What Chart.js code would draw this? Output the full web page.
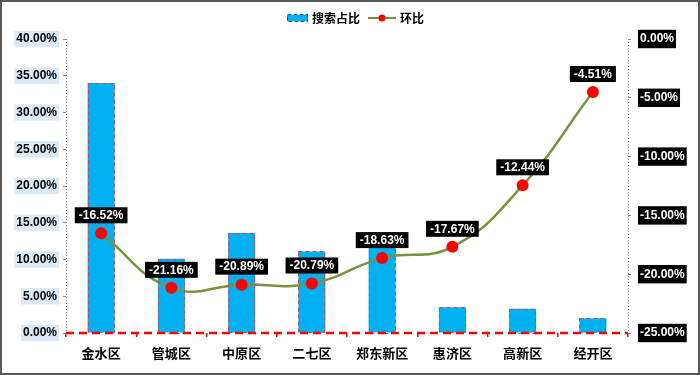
<!DOCTYPE html>
<html>
<head>
<meta charset="utf-8">
<script src="https://cdn.jsdelivr.net/npm/chart.js@4/dist/chart.umd.min.js"></script>
<style>
html,body{margin:0;padding:0;background:#fff;}
#wrap{position:relative;width:700px;height:375px;}
</style>
</head>
<body>
<div id="wrap"><canvas id="c" width="700" height="375"></canvas></div>
<script>
const categories = ['金水区','管城区','中原区','二七区','郑东新区','惠济区','高新区','经开区'];
const searchShare = [34.0, 10.1, 13.6, 11.1, 12.7, 3.5, 3.3, 2.0];
const momChange = [-16.52, -21.16, -20.89, -20.79, -18.63, -17.67, -12.44, -4.51];
const seriesNames = ['搜索占比','环比'];
const leftTicks = [0,5,10,15,20,25,30,35,40];
const rightTicks = [-25,-20,-15,-10,-5,0];

const CN = '"Noto Sans CJK SC", sans-serif';
const NUM = '"Liberation Sans", Arial, sans-serif';

const decor = {
  id: 'decor',
  beforeDatasetsDraw(chart) {
    const ctx = chart.ctx;
    const a = chart.chartArea;
    ctx.save();
    ctx.strokeStyle = '#808080';
    ctx.lineWidth = 1;
    ctx.setLineDash([1,2]);
    ctx.beginPath();
    ctx.moveTo(Math.round(a.left) + 0.5, a.top);
    ctx.lineTo(Math.round(a.left) + 0.5, a.bottom);
    ctx.moveTo(Math.round(a.right) + 0.5, a.top);
    ctx.lineTo(Math.round(a.right) + 0.5, a.bottom);
    ctx.stroke();
    ctx.restore();
  },
  afterDatasetsDraw(chart) {
    const ctx = chart.ctx;
    const a = chart.chartArea;
    // dashed bar borders
    const barMeta = chart.getDatasetMeta(0);
    ctx.save();
    ctx.strokeStyle = '#B0506A';
    ctx.lineWidth = 1;
    ctx.setLineDash([4,3]);
    barMeta.data.forEach(b => {
      const p = b.getProps(['x','y','base','width'], true);
      ctx.strokeRect(Math.round(p.x - p.width/2)+0.5, Math.round(p.y)+0.5, Math.round(p.width)-1, Math.round(p.base - p.y));
    });
    ctx.restore();
    // red dashed baseline
    const y0 = chart.scales.y.getPixelForValue(0);
    ctx.save();
    ctx.strokeStyle = '#FF0000';
    ctx.lineWidth = 2.5;
    ctx.setLineDash([8,5]);
    ctx.beginPath();
    ctx.moveTo(a.left, y0);
    ctx.lineTo(a.right, y0);
    ctx.stroke();
    ctx.restore();
    // value labels
    const lineMeta = chart.getDatasetMeta(1);
    ctx.save();
    ctx.font = 'bold 12px ' + NUM;
    ctx.textAlign = 'center';
    ctx.textBaseline = 'middle';
    lineMeta.data.forEach((pt, i) => {
      const txt = momChange[i].toFixed(2) + '%';
      const w = ctx.measureText(txt).width + 8;
      const h = 16;
      const x = pt.x, yb = pt.y - 10;
      ctx.fillStyle = '#000';
      ctx.fillRect(x - w/2, yb - h, w, h);
      ctx.fillStyle = '#fff';
      ctx.fillText(txt, x, yb - h/2 + 0.5);
    });
    ctx.restore();
  },
  afterDraw(chart) {
    const ctx = chart.ctx;
    ctx.save();
    // legend
    const ly = 18;
    ctx.fillStyle = '#00B0F0';
    ctx.fillRect(287, ly - 3, 21, 6);
    ctx.strokeStyle = '#1F4E9A';
    ctx.setLineDash([4,2]);
    ctx.lineWidth = 1;
    ctx.strokeRect(287.5, ly - 3.5, 20, 7);
    ctx.setLineDash([]);
    ctx.fillStyle = '#000';
    ctx.font = 'bold 12px ' + CN;
    ctx.textBaseline = 'middle';
    ctx.textAlign = 'left';
    ctx.fillText(seriesNames[0], 312, ly);
    ctx.strokeStyle = '#77933C';
    ctx.lineWidth = 2;
    ctx.beginPath(); ctx.moveTo(368, ly); ctx.lineTo(396, ly); ctx.stroke();
    ctx.fillStyle = '#FF0000';
    ctx.beginPath(); ctx.arc(382, ly, 3.5, 0, Math.PI*2); ctx.fill();
    ctx.fillStyle = '#000';
    ctx.fillText(seriesNames[1], 400, ly);
    // outer border
    ctx.strokeStyle = '#595959';
    ctx.lineWidth = 2;
    ctx.strokeRect(1, 1, 698, 373);
    ctx.restore();
  }
};

new Chart(document.getElementById('c'), {
  data: {
    labels: categories,
    datasets: [
      {
        type: 'bar',
        label: seriesNames[0],
        data: searchShare,
        backgroundColor: '#00B0F0',
        borderWidth: 0,
        barPercentage: 0.385,
        categoryPercentage: 1,
        yAxisID: 'y',
        order: 2
      },
      {
        type: 'line',
        label: seriesNames[1],
        data: momChange,
        borderColor: '#77933C',
        borderWidth: 2.5,
        tension: 0.45,
        pointRadius: 6,
        pointHoverRadius: 6,
        pointBackgroundColor: '#FF0000',
        pointBorderWidth: 0,
        yAxisID: 'y1',
        order: 1
      }
    ]
  },
  options: {
    responsive: false,
    animation: false,
    layout: { padding: { top: 39, bottom: 0, left: 0, right: 0 } },
    plugins: { legend: { display: false }, tooltip: { enabled: false } },
    scales: {
      x: {
        offset: true,
        grid: { display: true, drawOnChartArea: false, drawTicks: true, tickLength: 4, color: '#FF0000', lineWidth: 1.5, offset: true },
        border: { display: false },
        ticks: { color: '#000', font: { family: CN, size: 13, weight: 'bold' }, padding: 8 },
        afterFit(s) { s.height = 42; }
      },
      y: {
        position: 'left',
        min: 0, max: 40,
        afterBuildTicks(s) { s.ticks = leftTicks.map(v => ({ value: v })); },
        grid: { display: true, drawOnChartArea: false, drawTicks: true, tickLength: 3, color: '#888' },
        border: { display: false },
        ticks: {
          color: '#000', font: { family: NUM, size: 12, weight: 'bold' }, padding: 6,
          callback: v => v.toFixed(2) + '%',
          showLabelBackdrop: true, backdropColor: '#DCEAF5', backdropPadding: { top: 1, bottom: 1, left: 2, right: 2 }
        },
        afterFit(s) { s.width = 66; }
      },
      y1: {
        position: 'right',
        min: -25, max: 0,
        afterBuildTicks(s) { s.ticks = rightTicks.map(v => ({ value: v })); },
        grid: { display: true, drawOnChartArea: false, drawTicks: true, tickLength: 3, color: '#888' },
        border: { display: false },
        ticks: {
          color: '#fff', font: { family: NUM, size: 12, weight: 'bold' }, padding: 9,
          callback: v => v.toFixed(2) + '%',
          showLabelBackdrop: true, backdropColor: '#000', backdropPadding: { top: 2, bottom: 2, left: 2, right: 2 }
        },
        afterFit(s) { s.width = 72; }
      }
    }
  },
  plugins: [decor]
});
</script>
</body>
</html>
